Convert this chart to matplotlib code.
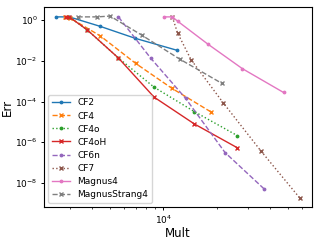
import matplotlib
matplotlib.use('Agg')
import matplotlib.pyplot as plt

names = ['CF2', 'CF4', 'CF4o', 'CF4oH', 'CF6n', 'CF7', 'Magnus4', 'MagnusStrang4']

mult = {
    'CF2': [2500, 2960, 4430, 6950, 12000],
    'CF4': [2810, 3000, 4430, 6990, 11130, 18630],
    'CF4o': [2960, 3750, 5600, 8880, 14950, 26080],
    'CF4oH': [2850, 2960, 3750, 5600, 8880, 14950, 26080],
    'CF6n': [5600, 8490, 13350, 22240, 36980],
    'CF7': [11250, 12030, 14330, 21670, 35300, 58470],
    'Magnus4': [10100, 11250, 12030, 17740, 27790, 47410],
    'MagnusStrang4': [3300, 4250, 5030, 7570, 12350, 21320],
}

err = {
    'CF2': [1.47, 1.47, 0.50, 0.13, 0.033],
    'CF4': [1.47, 1.28, 0.17, 7.6e-3, 4.6e-4, 3.0e-5],
    'CF4o': [1.47, 0.33, 0.0139, 5.1e-4, 3.2e-5, 2.1e-6],
    'CF4oH': [1.47, 1.47, 0.33, 0.0139, 1.65e-4, 7.9e-6, 5.3e-7],
    'CF6n': [1.47, 0.0139, 1.44e-4, 3.1e-7, 4.9e-9],
    'CF7': [1.47, 0.239, 0.0115, 8.9e-5, 3.8e-7, 1.8e-9],
    'Magnus4': [1.47, 1.47, 0.91, 0.069, 4.2e-3, 2.8e-4],
    'MagnusStrang4': [1.47, 1.47, 1.61, 0.186, 0.0124, 7.9e-4],
}

styles = {
    'CF2': ('-', '.'),
    'CF4': ('--', 'x'),
    'CF4o': (':', '.'),
    'CF4oH': ('-', 'x'),
    'CF6n': ('--', '.'),
    'CF7': (':', 'x'),
    'Magnus4': ('-', '.'),
    'MagnusStrang4': ('--', 'x'),
}

fig, ax = plt.subplots(figsize=(3.16, 2.41), dpi=100)
fig.subplots_adjust(left=0.139, right=0.987, top=0.971, bottom=0.141)

for name in names:
    ls, mk = styles[name]
    ms = 3.5 if mk == 'x' else 3.5
    ax.plot(mult[name], err[name], linestyle=ls, marker=mk, markersize=ms,
            linewidth=1.0, label=name)

ax.set_xscale('log')
ax.set_yscale('log')
ax.set_xlabel('Mult', fontsize=8.5, labelpad=1)
ax.set_ylabel('Err', fontsize=8.5, labelpad=1)
ax.tick_params(labelsize=6.5, length=2.5, width=0.7, pad=2)
ax.tick_params(which='minor', length=1.5, width=0.5)
ax.set_yticks([1e0, 1e-2, 1e-4, 1e-6, 1e-8])
for s in ax.spines.values():
    s.set_linewidth(0.8)
ax.legend(loc='lower left', fontsize=6.5, handlelength=2.0, labelspacing=0.45,
          borderpad=0.4, handletextpad=0.8)

fig.savefig('out.png', dpi=100)
